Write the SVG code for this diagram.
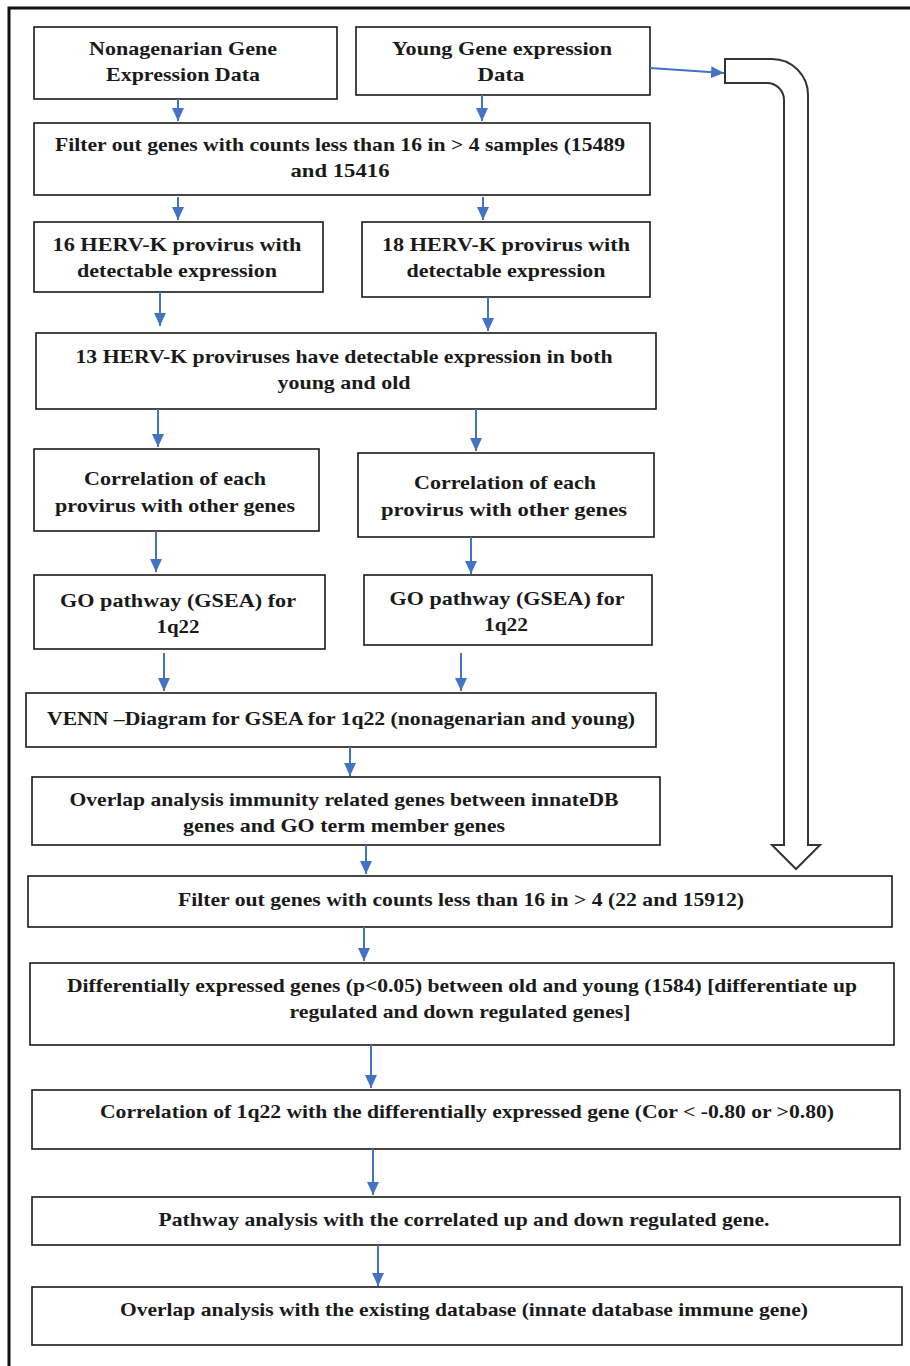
<svg xmlns="http://www.w3.org/2000/svg" width="910" height="1366" viewBox="0 0 910 1366">
<style>
.b{fill:#fff;stroke:#1a1a1a;stroke-width:1.6}
.t{font-family:"Liberation Serif","Times New Roman",serif;font-weight:bold;font-size:19px;fill:#1a1a1a;text-anchor:middle}
.c{stroke:#4472C4;stroke-width:2;fill:none;marker-end:url(#ah)}
</style>
<defs>
<marker id="ah" viewBox="0 0 10 10" refX="10" refY="5" markerWidth="13" markerHeight="12" markerUnits="userSpaceOnUse" orient="auto" preserveAspectRatio="none">
<path d="M0,0 L10,5 L0,10 Z" fill="#4472C4"/>
</marker>
</defs>
<rect width="910" height="1366" fill="#fff"/>
<path d="M9,1366 V8 H910" fill="none" stroke="#111" stroke-width="3"/>

<g id="n1"><rect class="b" x="34" y="27" width="303" height="72"/>
<text class="t" x="183" y="55" textLength="188" lengthAdjust="spacingAndGlyphs">Nonagenarian Gene</text>
<text class="t" x="183" y="81" textLength="154" lengthAdjust="spacingAndGlyphs">Expression Data</text></g>
<g id="n2"><rect class="b" x="356" y="27" width="294" height="68"/>
<text class="t" x="502" y="55" textLength="220" lengthAdjust="spacingAndGlyphs">Young Gene expression</text>
<text class="t" x="501" y="81" textLength="47" lengthAdjust="spacingAndGlyphs">Data</text></g>
<g id="n3"><rect class="b" x="34" y="123" width="616" height="72"/>
<text class="t" x="340" y="151" textLength="570" lengthAdjust="spacingAndGlyphs">Filter out genes with counts less than 16 in &gt; 4 samples (15489</text>
<text class="t" x="340" y="177" textLength="99" lengthAdjust="spacingAndGlyphs">and 15416</text></g>
<g id="n4"><rect class="b" x="34" y="222" width="289" height="70"/>
<text class="t" x="177" y="251" textLength="249" lengthAdjust="spacingAndGlyphs">16 HERV-K provirus with</text>
<text class="t" x="177" y="277" textLength="200" lengthAdjust="spacingAndGlyphs">detectable expression</text></g>
<g id="n5"><rect class="b" x="362" y="222" width="288" height="75"/>
<text class="t" x="506" y="251" textLength="248" lengthAdjust="spacingAndGlyphs">18 HERV-K provirus with</text>
<text class="t" x="506" y="277" textLength="199" lengthAdjust="spacingAndGlyphs">detectable expression</text></g>
<g id="n6"><rect class="b" x="36" y="333" width="620" height="76"/>
<text class="t" x="344" y="363" textLength="537" lengthAdjust="spacingAndGlyphs">13 HERV-K proviruses have detectable expression in both</text>
<text class="t" x="344" y="389" textLength="133" lengthAdjust="spacingAndGlyphs">young and old</text></g>
<g id="n7"><rect class="b" x="34" y="449" width="285" height="82"/>
<text class="t" x="175" y="485" textLength="182" lengthAdjust="spacingAndGlyphs">Correlation of each</text>
<text class="t" x="175" y="512" textLength="240" lengthAdjust="spacingAndGlyphs">provirus with other genes</text></g>
<g id="n8"><rect class="b" x="358" y="453" width="296" height="84"/>
<text class="t" x="505" y="489" textLength="182" lengthAdjust="spacingAndGlyphs">Correlation of each</text>
<text class="t" x="504" y="516" textLength="246" lengthAdjust="spacingAndGlyphs">provirus with other  genes</text></g>
<g id="n9"><rect class="b" x="34" y="575" width="291" height="74"/>
<text class="t" x="178" y="607" textLength="236" lengthAdjust="spacingAndGlyphs">GO pathway (GSEA) for</text>
<text class="t" x="178" y="633" textLength="43" lengthAdjust="spacingAndGlyphs">1q22</text></g>
<g id="n10"><rect class="b" x="364" y="575" width="288" height="70"/>
<text class="t" x="507" y="605" textLength="235" lengthAdjust="spacingAndGlyphs">GO pathway (GSEA) for</text>
<text class="t" x="506" y="631" textLength="44" lengthAdjust="spacingAndGlyphs">1q22</text></g>
<g id="n11"><rect class="b" x="26" y="693" width="630" height="54"/>
<text class="t" x="341" y="725" textLength="588" lengthAdjust="spacingAndGlyphs">VENN –Diagram for GSEA for 1q22 (nonagenarian and young)</text></g>
<g id="n12"><rect class="b" x="32" y="777" width="628" height="68"/>
<text class="t" x="344" y="806" textLength="549" lengthAdjust="spacingAndGlyphs">Overlap analysis immunity related genes between innateDB</text>
<text class="t" x="344" y="832" textLength="322" lengthAdjust="spacingAndGlyphs">genes and GO term member genes</text></g>
<g id="n13"><rect class="b" x="28" y="876" width="864" height="51"/>
<text class="t" x="461" y="906" textLength="566" lengthAdjust="spacingAndGlyphs">Filter out genes with counts less than 16 in &gt; 4 (22 and 15912)</text></g>
<g id="n14"><rect class="b" x="30" y="963" width="864" height="82"/>
<text class="t" x="462" y="992" textLength="790" lengthAdjust="spacingAndGlyphs">Differentially expressed genes (p&lt;0.05) between old and young (1584) [differentiate up</text>
<text class="t" x="460" y="1018" textLength="341" lengthAdjust="spacingAndGlyphs">regulated and down regulated genes]</text></g>
<g id="n15"><rect class="b" x="32" y="1090" width="868" height="59"/>
<text class="t" x="467" y="1118" textLength="734" lengthAdjust="spacingAndGlyphs">Correlation of 1q22 with the differentially expressed gene (Cor &lt; -0.80 or &gt;0.80)</text></g>
<g id="n16"><rect class="b" x="32" y="1197" width="868" height="48"/>
<text class="t" x="464" y="1226" textLength="611" lengthAdjust="spacingAndGlyphs">Pathway analysis with the correlated up and down regulated gene.</text></g>
<g id="n17"><rect class="b" x="32" y="1287" width="870" height="58"/>
<text class="t" x="464" y="1316" textLength="688" lengthAdjust="spacingAndGlyphs">Overlap analysis with the existing database (innate database immune gene)</text></g>

<g id="bigarrow"><path d="M725,59 H772 A36,36 0 0 1 808,95 V845 H820 L796,869 L772,845 H784 V100 A17,17 0 0 0 767,83 H725 Z" fill="#fff" stroke="#333" stroke-width="2"/></g>

<g id="connectors">
<line class="c" x1="178" y1="99" x2="178" y2="121"/>
<line class="c" x1="482" y1="95" x2="482" y2="121"/>
<line class="c" x1="178" y1="197" x2="178" y2="220"/>
<line class="c" x1="483" y1="197" x2="483" y2="220"/>
<line class="c" x1="160" y1="292" x2="160" y2="326"/>
<line class="c" x1="488" y1="297" x2="488" y2="331"/>
<line class="c" x1="158" y1="409" x2="158" y2="447"/>
<line class="c" x1="476" y1="409" x2="476" y2="451"/>
<line class="c" x1="156" y1="531" x2="156" y2="572"/>
<line class="c" x1="471" y1="537" x2="471" y2="574"/>
<line class="c" x1="164" y1="653" x2="164" y2="691"/>
<line class="c" x1="461" y1="653" x2="461" y2="691"/>
<line class="c" x1="350" y1="747" x2="350" y2="776"/>
<line class="c" x1="366" y1="845" x2="366" y2="874"/>
<line class="c" x1="364" y1="927" x2="364" y2="961"/>
<line class="c" x1="371" y1="1045" x2="371" y2="1088"/>
<line class="c" x1="373" y1="1149" x2="373" y2="1195"/>
<line class="c" x1="378" y1="1245" x2="378" y2="1286"/>
<line class="c" x1="650" y1="68" x2="724" y2="73"/>
</g>
</svg>
